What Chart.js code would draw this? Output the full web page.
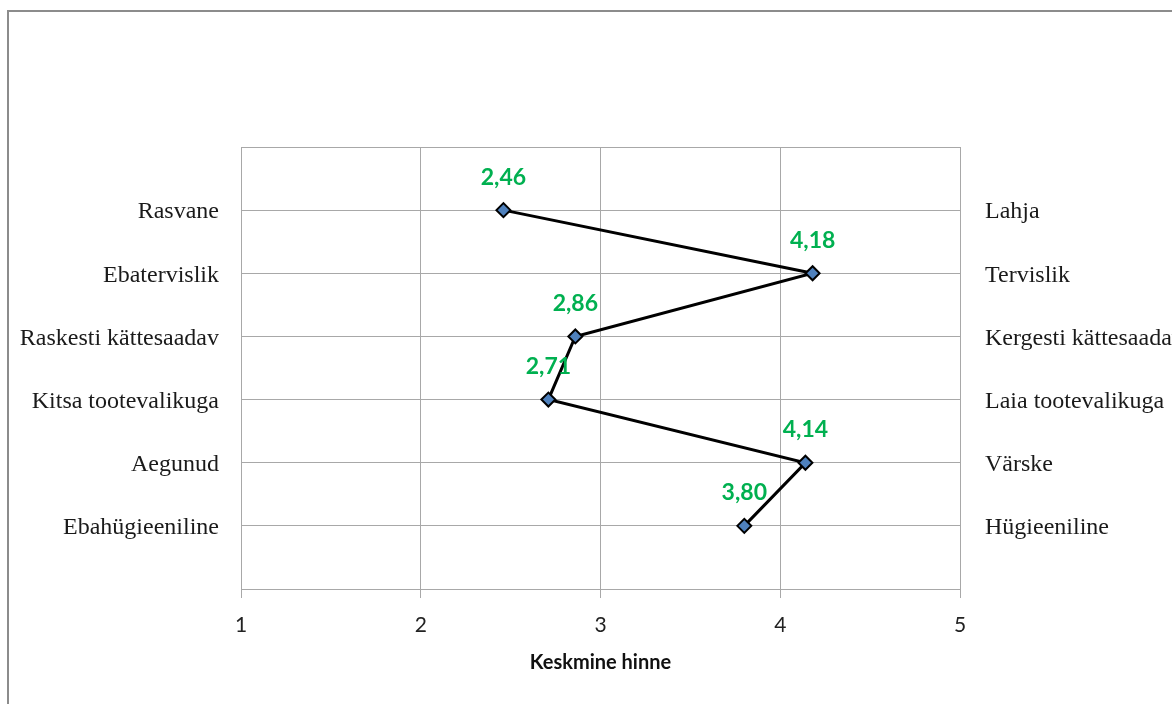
<!DOCTYPE html>
<html>
<head>
<meta charset="utf-8">
<script src="https://cdn.jsdelivr.net/npm/chart.js@4/dist/chart.umd.min.js"></script>
<style>
  html, body { margin: 0; padding: 0; background: #fff; overflow: hidden; }
  #frame {
    position: absolute; left: 7px; top: 10px; width: 1220px; height: 760px;
    border: 2px solid #8c8c8c; box-sizing: border-box;
  }
  #c { position: absolute; left: 0; top: 0; }
</style>
</head>
<body>
<div id="frame"></div>
<canvas id="c" width="1172" height="704"></canvas>
<script>
// Negative pole of each attribute (left) and positive pole (right), top to bottom
const leftLabels = ['Rasvane', 'Ebatervislik', 'Raskesti kättesaadav', 'Kitsa tootevalikuga', 'Aegunud', 'Ebahügieeniline'];
const rightLabels = ['Lahja', 'Tervislik', 'Kergesti kättesaadav', 'Laia tootevalikuga', 'Värske', 'Hügieeniline'];
// Mean score per attribute on a 1–5 scale
const meanScores = [2.46, 4.18, 2.86, 2.71, 4.14, 3.80];
const xTicks = [1, 2, 3, 4, 5];
const axisTitle = 'Keskmine hinne';

const N = leftLabels.length;
const points = meanScores.map((v, i) => ({ x: v, y: N - i }));
const fmt = v => v.toFixed(2).replace('.', ',');

const gridColor = '#a8a8a8';
const serif = "'Liberation Serif', 'Times New Roman', serif";
const sans = "Lato, 'Open Sans', sans-serif";

// Green value labels above each marker
const valueLabels = {
  id: 'valueLabels',
  afterDatasetsDraw(chart) {
    const ctx = chart.ctx;
    const meta = chart.getDatasetMeta(0);
    ctx.save();
    ctx.font = "bold 23px " + sans;
    ctx.fillStyle = '#00b050';
    ctx.textAlign = 'center';
    ctx.textBaseline = 'middle';
    meta.data.forEach((el, i) => {
      ctx.fillText(fmt(meanScores[i]), el.x, el.y - 33);
    });
    ctx.restore();
  }
};

new Chart(document.getElementById('c'), {
  type: 'line',
  data: {
    datasets: [{
      data: points,
      borderColor: '#000',
      borderWidth: 3,
      tension: 0,
      pointStyle: 'rectRot',
      pointRadius: 7,
      pointHoverRadius: 7,
      pointBackgroundColor: '#4f81bd',
      pointBorderColor: '#000',
      pointBorderWidth: 2,
      clip: false
    }]
  },
  options: {
    responsive: false,
    animation: false,
    events: [],
    layout: { padding: { top: 147, left: 0, right: 0, bottom: 0 } },
    plugins: { legend: { display: false }, tooltip: { enabled: false } },
    scales: {
      x: {
        type: 'linear',
        min: 1, max: 5,
        afterBuildTicks: s => { s.ticks = xTicks.map(v => ({ value: v })); },
        afterFit: s => { s.height = 115; },
        grid: { color: gridColor, tickLength: 9, lineWidth: 1 },
        border: { color: gridColor },
        ticks: { color: '#222', padding: 15, font: { family: sans, size: 21 } },
        title: {
          display: true, text: axisTitle, color: '#111',
          font: { family: sans, size: 20, weight: 'bold' },
          padding: { top: 0, bottom: 29 }
        }
      },
      y: {
        type: 'linear', position: 'left',
        min: 0, max: N + 1,
        afterBuildTicks: s => {
          const t = [];
          for (let v = 0; v <= N + 1; v++) t.push({ value: v });
          s.ticks = t;
        },
        afterFit: s => { s.width = 241; },
        grid: { color: gridColor, drawTicks: false },
        border: { color: gridColor },
        ticks: {
          color: '#1a1a1a', padding: 22, autoSkip: false, labelOffset: 2,
          font: { family: serif, size: 24 },
          callback: v => leftLabels[N - v] ?? ''
        }
      },
      y2: {
        type: 'linear', position: 'right',
        min: 0, max: N + 1,
        afterBuildTicks: s => {
          const t = [];
          for (let v = 0; v <= N + 1; v++) t.push({ value: v });
          s.ticks = t;
        },
        afterFit: s => { s.width = 212; },
        grid: { display: false, drawTicks: false },
        border: { color: gridColor },
        ticks: {
          color: '#1a1a1a', padding: 25, autoSkip: false, labelOffset: 2,
          font: { family: serif, size: 24 },
          callback: v => rightLabels[N - v] ?? ''
        }
      }
    }
  },
  plugins: [valueLabels]
});
</script>
</body>
</html>
